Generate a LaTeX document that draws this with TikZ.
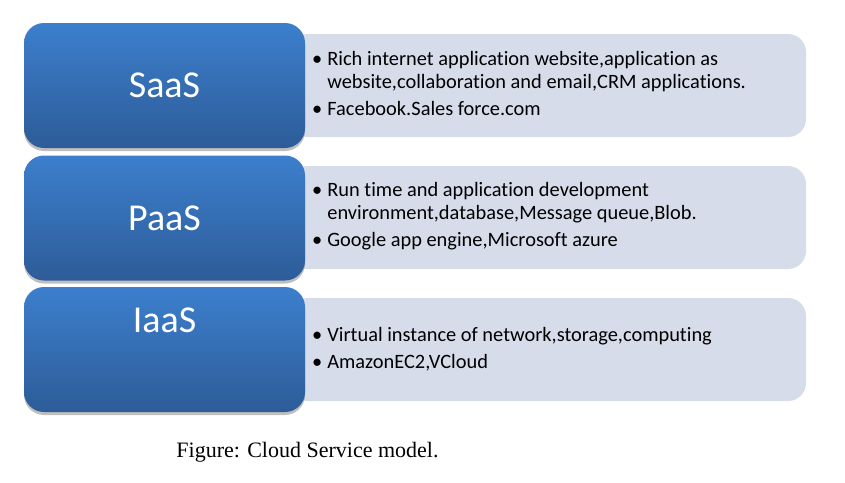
\documentclass[tikz,border=0pt]{standalone}
\usepackage{fontspec}
\setmainfont{Carlito}[RawFeature={-liga}]
\newfontfamily\capfont{Liberation Serif}
\usepackage{tikz}
\usetikzlibrary{positioning}
\usetikzlibrary{shadows}
\definecolor{layertop}{RGB}{60,127,205}
\definecolor{layerbot}{RGB}{45,92,152}
\definecolor{panelgray}{RGB}{214,220,234}

\begin{document}
\begin{tikzpicture}[x=1pt,y=1pt,
  layer/.style={rectangle, rounded corners=20pt, minimum width=281pt, minimum height=125pt,
    top color=layertop, bottom color=layerbot, draw=none,
    drop shadow={shadow xshift=0pt, shadow yshift=-3pt, opacity=0.25, fill=black}},
  panel/.style={rectangle, rounded corners=18pt, minimum width=516pt, minimum height=103pt,
    fill=panelgray, draw=none},
  lname/.style={text=white, font=\fontsize{38}{44}\selectfont},
  items/.style={anchor=west, inner sep=0pt, font=\fontsize{20.4}{23}\selectfont}
  ]
\useasboundingbox (0,0) rectangle (845,-482);

% grey panels behind the blue layers
\node[panel] (sP) at (548,-85.5) {};
\node[panel] (pP) at (548,-217.5) {};
\node[panel] (iP) at (548,-349.5) {};

% blue layers
\node[layer] (sL) at (164.5,-85.5) {};
\node[layer] (pL) at (164.5,-218) {};
\node[layer] (iL) at (164.5,-349.5) {};

\node[lname] (sN) at (sL.center) {SaaS};
\node[lname] (pN) at (pL.center) {PaaS};
\node[lname, below=18pt of iL.north] (iN) {IaaS};

% bullet texts
\node[items] (sT) at (312,-86) {\begin{tabular}{@{}l@{\hspace{5pt}}l@{}}
  • & Rich internet application website,application as\\
    & website,collaboration and email,CRM applications.\\[4pt]
  • & Facebook.Sales force.com
\end{tabular}};

\node[items] (pT) at (312,-217) {\begin{tabular}{@{}l@{\hspace{5pt}}l@{}}
  • & Run time and application development\\
    & environment,database,Message queue,Blob.\\[4pt]
  • & Google app engine,Microsoft azure
\end{tabular}};

\node[items] (iT) at (312,-350) {\begin{tabular}{@{}l@{\hspace{5pt}}l@{}}
  • & Virtual instance of network,storage,computing\\[4pt]
  • & AmazonEC2,VCloud
\end{tabular}};

\node[font=\capfont\fontsize{22}{26}\selectfont] (cap) at (307.5,-452) {Figure: Cloud Service model.};

\end{tikzpicture}
\end{document}
